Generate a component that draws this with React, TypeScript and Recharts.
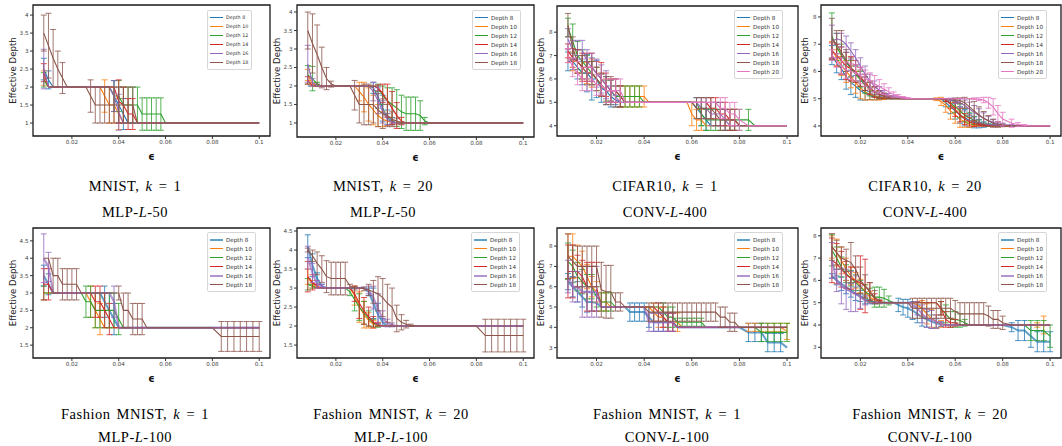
import { LineChart, Line, XAxis, YAxis, ErrorBar, ReferenceArea, Legend } from "recharts";

// epsilon grid: 0.002 steps up to 0.08, coarser steps after
const EPS = [
  0.008, 0.01, 0.012, 0.014, 0.016, 0.018, 0.02, 0.022, 0.024, 0.026,  0.028, 0.03, 0.032, 0.034, 0.036, 0.038, 0.04, 0.042, 0.044, 0.046,
  0.048, 0.05, 0.052, 0.054, 0.056, 0.058, 0.06, 0.062, 0.064, 0.066,  0.068, 0.07, 0.072, 0.074, 0.076, 0.078, 0.08,  0.0838, 0.0865, 0.0892, 0.0919, 0.0946, 0.0973, 0.1,
];

const DEPTHS = [8, 10, 12, 14, 16, 18, 20];
const COLORS = ["#1f77b4", "#ff7f0e", "#2ca02c", "#d62728", "#9467bd", "#8c564b", "#e377c2"];
const X_TICKS = [0.02, 0.04, 0.06, 0.08, 0.1];

// ---- MNIST, k = 1 (MLP-L-50)
const mnist1_d8 = [
  2.5, 2.2, 2, 2, 2, 2, 2, 2, 2, 2,  2, 2, 2, 2, 2, 1.75, 1.5, 1.25, 1, 1,
  1, 1, 1, 1, 1, 1, 1, 1, 1, 1,  1, 1, 1, 1, 1, 1, 1,  1, 1, 1, 1, 1, 1, 1,
];
const mnist1_d8_e = [
  0.3, 0.25, 0, 0, 0, 0, 0, 0, 0, 0,  0, 0, 0, 0, 0, 0.43, 0.5, 0.43, 0, 0,
  0, 0, 0, 0, 0, 0, 0, 0, 0, 0,  0, 0, 0, 0, 0, 0, 0,  0, 0, 0, 0, 0, 0, 0,
];
const mnist1_d10 = [
  2.25, 2, 2, 2, 2, 2, 2, 2, 2, 2,  2, 2, 2, 1.75, 1.5, 1.5, 1.25, 1, 1, 1,
  1, 1, 1, 1, 1, 1, 1, 1, 1, 1,  1, 1, 1, 1, 1, 1, 1,  1, 1, 1, 1, 1, 1, 1,
];
const mnist1_d10_e = [
  0.2, 0, 0, 0, 0, 0, 0, 0, 0, 0,  0, 0, 0, 0.45, 0.5, 0.5, 0.43, 0, 0, 0,
  0, 0, 0, 0, 0, 0, 0, 0, 0, 0,  0, 0, 0, 0, 0, 0, 0,  0, 0, 0, 0, 0, 0, 0,
];
const mnist1_d12 = [
  2.2, 2, 2, 2, 2, 2, 2, 2, 2, 2,  2, 2, 2, 2, 2, 1.75, 1.75, 1.5, 1.5, 1.5,
  1.5, 1.25, 1.25, 1.25, 1.25, 1.25, 1, 1, 1, 1,  1, 1, 1, 1, 1, 1, 1,  1, 1, 1, 1, 1, 1, 1,
];
const mnist1_d12_e = [
  0.2, 0, 0, 0, 0, 0, 0, 0, 0, 0,  0, 0, 0, 0, 0, 0.43, 0.43, 0.5, 0.5, 0.5,
  0.5, 0.45, 0.45, 0.45, 0.45, 0.45, 0, 0, 0, 0,  0, 0, 0, 0, 0, 0, 0,  0, 0, 0, 0, 0, 0, 0,
];
const mnist1_d14 = [
  2.4, 2, 2, 2, 2, 2, 2, 2, 2, 2,  2, 2, 2, 2, 2, 2, 1.6, 1.5, 1.25, 1.25,
  1, 1, 1, 1, 1, 1, 1, 1, 1, 1,  1, 1, 1, 1, 1, 1, 1,  1, 1, 1, 1, 1, 1, 1,
];
const mnist1_d14_e = [
  0.25, 0, 0, 0, 0, 0, 0, 0, 0, 0,  0, 0, 0, 0, 0, 0, 0.6, 0.5, 0.43, 0.43,
  0, 0, 0, 0, 0, 0, 0, 0, 0, 0,  0, 0, 0, 0, 0, 0, 0,  0, 0, 0, 0, 0, 0, 0,
];
const mnist1_d16 = [
  2.5, 2, 2, 2, 2, 2, 2, 2, 2, 2,  2, 2, 2, 2, 2, 1.75, 1.3, 1, 1, 1,
  1, 1, 1, 1, 1, 1, 1, 1, 1, 1,  1, 1, 1, 1, 1, 1, 1,  1, 1, 1, 1, 1, 1, 1,
];
const mnist1_d16_e = [
  0.55, 0, 0, 0, 0, 0, 0, 0, 0, 0,  0, 0, 0, 0, 0, 0.43, 0.5, 0, 0, 0,
  0, 0, 0, 0, 0, 0, 0, 0, 0, 0,  0, 0, 0, 0, 0, 0, 0,  0, 0, 0, 0, 0, 0, 0,
];
const mnist1_d18 = [
  3.5, 3.15, 2.8, 2.5, 2.25, 2, 2, 2, 2, 2,  1.75, 1.5, 1.5, 1.5, 1.5, 1.5, 1.5, 1.5, 1.5, 1.5,
  1, 1, 1, 1, 1, 1, 1, 1, 1, 1,  1, 1, 1, 1, 1, 1, 1,  1, 1, 1, 1, 1, 1, 1,
];
const mnist1_d18_e = [
  0.5, 0.9, 0.8, 0.5, 0.43, 0, 0, 0, 0, 0,  0.45, 0.5, 0.5, 0.5, 0.5, 0.5, 0.5, 0.5, 0.5, 0.5,
  0, 0, 0, 0, 0, 0, 0, 0, 0, 0,  0, 0, 0, 0, 0, 0, 0,  0, 0, 0, 0, 0, 0, 0,
];

// ---- MNIST, k = 20 (MLP-L-50)
const mnist20_d8 = [
  2, 2, 2, 2, 2, 2, 2, 2, 2, 2,  2, 2, 2, 2, 1.95, 1.7, 1.4, 1.15, 1.05, 1,
  1, 1, 1, 1, 1, 1, 1, 1, 1, 1,  1, 1, 1, 1, 1, 1, 1,  1, 1, 1, 1, 1, 1, 1,
];
const mnist20_d8_e = [
  0, 0, 0, 0, 0, 0, 0, 0, 0, 0,  0, 0, 0, 0, 0.15, 0.3, 0.35, 0.2, 0.1, 0,
  0, 0, 0, 0, 0, 0, 0, 0, 0, 0,  0, 0, 0, 0, 0, 0, 0,  0, 0, 0, 0, 0, 0, 0,
];
const mnist20_d10 = [
  2.3, 2.05, 2, 2, 2, 2, 2, 2, 2, 2,  2, 1.85, 1.7, 1.5, 1.35, 1.2, 1.1, 1.05, 1.02, 1,
  1, 1, 1, 1, 1, 1, 1, 1, 1, 1,  1, 1, 1, 1, 1, 1, 1,  1, 1, 1, 1, 1, 1, 1,
];
const mnist20_d10_e = [
  0.15, 0.05, 0, 0, 0, 0, 0, 0, 0, 0,  0, 0.25, 0.4, 0.45, 0.4, 0.3, 0.2, 0.12, 0.05, 0,
  0, 0, 0, 0, 0, 0, 0, 0, 0, 0,  0, 0, 0, 0, 0, 0, 0,  0, 0, 0, 0, 0, 0, 0,
];
const mnist20_d12 = [
  2.3, 2.2, 2.05, 2, 2, 2, 2, 2, 2, 2,  2, 2, 2, 2, 2, 1.95, 1.75, 1.6, 1.5, 1.4,
  1.3, 1.25, 1.25, 1.25, 1.2, 1.05, 1, 1, 1, 1,  1, 1, 1, 1, 1, 1, 1,  1, 1, 1, 1, 1, 1, 1,
];
const mnist20_d12_e = [
  0.25, 0.33, 0.05, 0, 0, 0, 0, 0, 0, 0,  0, 0, 0, 0, 0, 0.1, 0.25, 0.35, 0.45, 0.5,
  0.45, 0.45, 0.45, 0.45, 0.4, 0.1, 0, 0, 0, 0,  0, 0, 0, 0, 0, 0, 0,  0, 0, 0, 0, 0, 0, 0,
];
const mnist20_d14 = [
  2.15, 2, 2, 2, 2, 2, 2, 2, 2, 2,  2, 2, 2, 2, 2, 1.95, 1.8, 1.6, 1.4, 1.2,
  1.05, 1, 1, 1, 1, 1, 1, 1, 1, 1,  1, 1, 1, 1, 1, 1, 1,  1, 1, 1, 1, 1, 1, 1,
];
const mnist20_d14_e = [
  0.1, 0, 0, 0, 0, 0, 0, 0, 0, 0,  0, 0, 0, 0, 0, 0.08, 0.25, 0.45, 0.45, 0.35,
  0.1, 0, 0, 0, 0, 0, 0, 0, 0, 0,  0, 0, 0, 0, 0, 0, 0,  0, 0, 0, 0, 0, 0, 0,
];
const mnist20_d16 = [
  2.6, 2.1, 2, 2, 2, 2, 2, 2, 2, 2,  2, 2, 2, 2, 1.85, 1.6, 1.3, 1.1, 1.02, 1,
  1, 1, 1, 1, 1, 1, 1, 1, 1, 1,  1, 1, 1, 1, 1, 1, 1,  1, 1, 1, 1, 1, 1, 1,
];
const mnist20_d16_e = [
  0.5, 0.1, 0, 0, 0, 0, 0, 0, 0, 0,  0, 0, 0, 0, 0.25, 0.35, 0.3, 0.15, 0.03, 0,
  0, 0, 0, 0, 0, 0, 0, 0, 0, 0,  0, 0, 0, 0, 0, 0, 0,  0, 0, 0, 0, 0, 0, 0,
];
const mnist20_d18 = [
  3.5, 3.15, 2.85, 2.5, 2.2, 2.05, 2, 2, 2, 2,  1.75, 1.5, 1.5, 1.5, 1.5, 1.35, 1.25, 1.2, 1.1, 1.05,
  1, 1, 1, 1, 1, 1, 1, 1, 1, 1,  1, 1, 1, 1, 1, 1, 1,  1, 1, 1, 1, 1, 1, 1,
];
const mnist20_d18_e = [
  0.5, 0.8, 0.8, 0.55, 0.3, 0.08, 0, 0, 0, 0,  0.4, 0.5, 0.55, 0.55, 0.5, 0.45, 0.4, 0.3, 0.2, 0.08,
  0.03, 0, 0, 0, 0, 0, 0, 0, 0, 0,  0, 0, 0, 0, 0, 0, 0,  0, 0, 0, 0, 0, 0, 0,
];

// ---- CIFAR10, k = 1 (CONV-L-400)
const cifar1_d8 = [
  6.75, 6.75, 6.5, 6.25, 6.25, 6, 6, 5.6, 5.5, 5.25,  5.1, 5, 5, 5, 5, 5, 5, 5, 5, 5,
  5, 5, 5, 5, 5, 5, 5, 4.75, 4.5, 4.25,  4, 4, 4, 4, 4, 4, 4,  4, 4, 4, 4, 4, 4, 4,
];
const cifar1_d8_e = [
  0.4, 0.35, 0.5, 0.5, 0.8, 0.9, 0.8, 0.6, 0.6, 0.45,  0.2, 0, 0, 0, 0, 0, 0, 0, 0, 0,
  0, 0, 0, 0, 0, 0, 0, 0.45, 0.5, 0.45,  0, 0, 0, 0, 0, 0, 0,  0, 0, 0, 0, 0, 0, 0,
];
const cifar1_d10 = [
  7, 6.75, 6.75, 6.5, 6.25, 6.25, 6, 5.75, 5.5, 5.5,  5.25, 5.25, 5.25, 5.25, 5.25, 5.25, 5.25, 5, 5, 5,
  5, 5, 5, 5, 5, 5, 4.5, 4.25, 4.25, 4,  4, 4, 4, 4, 4, 4, 4,  4, 4, 4, 4, 4, 4, 4,
];
const cifar1_d10_e = [
  0.3, 0.4, 0.5, 0.5, 0.45, 0.6, 0.5, 0.5, 0.5, 0.45,  0.45, 0.45, 0.45, 0.45, 0.45, 0.45, 0.45, 0, 0, 0,
  0, 0, 0, 0, 0, 0, 0.5, 0.45, 0.45, 0,  0, 0, 0, 0, 0, 0, 0,  0, 0, 0, 0, 0, 0, 0,
];
const cifar1_d12 = [
  8.2, 7.6, 7, 6.75, 6.5, 6.25, 6, 5.75, 5.5, 5.5,  5.25, 5.25, 5.25, 5.25, 5.25, 5.25, 5, 5, 5, 5,
  5, 5, 5, 5, 5, 5, 5, 5, 4.5, 4.25,  4.25, 4.25, 4.25, 4.25, 4.25, 4.25, 4.25,  4.25, 4, 4, 4, 4, 4, 4,
];
const cifar1_d12_e = [
  0.4, 0.75, 0.6, 0.5, 0.5, 0.5, 0.5, 0.45, 0.45, 0.45,  0.45, 0.45, 0.45, 0.45, 0.45, 0.45, 0, 0, 0, 0,
  0, 0, 0, 0, 0, 0, 0, 0, 0.5, 0.45,  0.45, 0.45, 0.45, 0.45, 0.45, 0.45, 0.45,  0.45, 0, 0, 0, 0, 0, 0,
];
const cifar1_d14 = [
  7.2, 6.9, 6.75, 6.5, 6.5, 6.5, 6.25, 6, 5.75, 5.5,  5.5, 5.25, 5, 5, 5, 5, 5, 5, 5, 5,
  5, 5, 5, 5, 5, 5, 5, 5, 5, 5,  4.75, 4.75, 4.5, 4.5, 4.25, 4.25, 4,  4, 4, 4, 4, 4, 4, 4,
];
const cifar1_d14_e = [
  0.3, 0.4, 0.5, 0.6, 0.6, 0.6, 0.5, 0.7, 0.5, 0.5,  0.5, 0.45, 0, 0, 0, 0, 0, 0, 0, 0,
  0, 0, 0, 0, 0, 0, 0, 0, 0, 0,  0.45, 0.45, 0.5, 0.5, 0.45, 0.45, 0,  0, 0, 0, 0, 0, 0, 0,
];
const cifar1_d16 = [
  7.7, 7.25, 7.25, 7.25, 6.75, 6.5, 6.25, 6, 5.75, 5.5,  5.25, 5, 5, 5, 5, 5, 5, 5, 5, 5,
  5, 5, 5, 5, 5, 5, 5, 5, 4.75, 4.75,  4.5, 4.5, 4.5, 4.25, 4, 4, 4,  4, 4, 4, 4, 4, 4, 4,
];
const cifar1_d16_e = [
  0.45, 0.4, 0.4, 0.4, 0.5, 0.6, 0.6, 0.6, 0.6, 0.45,  0.45, 0, 0, 0, 0, 0, 0, 0, 0, 0,
  0, 0, 0, 0, 0, 0, 0, 0, 0.45, 0.45,  0.5, 0.5, 0.5, 0.45, 0, 0, 0,  0, 0, 0, 0, 0, 0, 0,
];
const cifar1_d18 = [
  8.3, 7.3, 6.75, 6.5, 6.25, 6.25, 6, 5.75, 5.5, 5.5,  5.5, 5.25, 5, 5, 5, 5, 5, 5, 5, 5,
  5, 5, 5, 5, 5, 5, 5, 4.75, 4.75, 4.75,  4.75, 4.5, 4.25, 4.25, 4.25, 4.25, 4,  4, 4, 4, 4, 4, 4, 4,
];
const cifar1_d18_e = [
  0.5, 0.5, 0.5, 0.5, 0.5, 0.5, 0.5, 0.5, 0.6, 0.6,  0.5, 0.45, 0, 0, 0, 0, 0, 0, 0, 0,
  0, 0, 0, 0, 0, 0, 0, 0.45, 0.45, 0.45,  0.45, 0.5, 0.45, 0.45, 0.45, 0.45, 0,  0, 0, 0, 0, 0, 0, 0,
];
const cifar1_d20 = [
  7, 6.5, 6.25, 6, 6, 6, 5.75, 5.75, 5.5, 5.5,  5.5, 5.5, 5, 5, 5, 5, 5, 5, 5, 5,
  5, 5, 5, 5, 5, 5, 5, 5, 5, 5,  5, 5, 4.75, 4.75, 4.5, 4.5, 4.25,  4, 4, 4, 4, 4, 4, 4,
];
const cifar1_d20_e = [
  0.3, 0.4, 0.5, 0.5, 0.5, 0.5, 0.45, 0.45, 0.5, 0.5,  0.5, 0.5, 0, 0, 0, 0, 0, 0, 0, 0,
  0, 0, 0, 0, 0, 0, 0, 0, 0, 0,  0, 0, 0.45, 0.45, 0.5, 0.5, 0.45,  0, 0, 0, 0, 0, 0, 0,
];

// ---- CIFAR10, k = 20 (CONV-L-400)
const cifar20_d8 = [
  6.6, 6.3, 6.1, 5.8, 5.6, 5.45, 5.3, 5.2, 5.12, 5.06,  5.03, 5.01, 5, 5, 5, 5, 5, 5, 5, 5,
  5, 5, 5, 5, 4.85, 4.7, 4.55, 4.4, 4.3, 4.2,  4.13, 4.08, 4.05, 4.03, 4.02, 4.01, 4,  4, 4, 4, 4, 4, 4, 4,
];
const cifar20_d8_e = [
  0.35, 0.35, 0.4, 0.45, 0.45, 0.4, 0.35, 0.25, 0.15, 0.1,  0.05, 0.02, 0, 0, 0, 0, 0, 0, 0, 0,
  0, 0, 0, 0, 0.15, 0.25, 0.3, 0.3, 0.3, 0.25,  0.2, 0.15, 0.1, 0.05, 0.03, 0.02, 0,  0, 0, 0, 0, 0, 0, 0,
];
const cifar20_d10 = [
  6.8, 6.5, 6.2, 6, 5.8, 5.6, 5.4, 5.25, 5.15, 5.1,  5.05, 5.02, 5, 5, 5, 5, 5, 5, 5, 5,
  5, 5, 4.98, 4.9, 4.75, 4.55, 4.4, 4.25, 4.15, 4.05,  4.02, 4, 4, 4, 4, 4, 4,  4, 4, 4, 4, 4, 4, 4,
];
const cifar20_d10_e = [
  0.3, 0.3, 0.35, 0.4, 0.4, 0.4, 0.4, 0.3, 0.2, 0.15,  0.1, 0.05, 0, 0, 0, 0, 0, 0, 0, 0,
  0, 0, 0.05, 0.15, 0.25, 0.3, 0.3, 0.3, 0.2, 0.1,  0.05, 0, 0, 0, 0, 0, 0,  0, 0, 0, 0, 0, 0, 0,
];
const cifar20_d12 = [
  7.3, 6.9, 6.6, 6.35, 6.1, 5.9, 5.7, 5.5, 5.35, 5.25,  5.15, 5.1, 5.05, 5.03, 5.01, 5, 5, 5, 5, 5,
  5, 5, 5, 5, 4.95, 4.85, 4.7, 4.55, 4.4, 4.3,  4.2, 4.12, 4.06, 4.03, 4.01, 4, 4,  4, 4, 4, 4, 4, 4, 4,
];
const cifar20_d12_e = [
  0.85, 0.5, 0.4, 0.35, 0.3, 0.3, 0.3, 0.3, 0.25, 0.2,  0.15, 0.1, 0.05, 0.03, 0.01, 0, 0, 0, 0, 0,
  0, 0, 0, 0, 0.05, 0.15, 0.2, 0.25, 0.25, 0.2,  0.15, 0.1, 0.05, 0.03, 0, 0, 0,  0, 0, 0, 0, 0, 0, 0,
];
const cifar20_d14 = [
  6.75, 6.6, 6.4, 6.2, 6.1, 6, 5.8, 5.6, 5.4, 5.25,  5.15, 5.1, 5.05, 5.02, 5, 5, 5, 5, 5, 5,
  5, 5, 5, 5, 4.95, 4.8, 4.6, 4.4, 4.25, 4.15,  4.08, 4.05, 4.02, 4.01, 4, 4, 4,  4, 4, 4, 4, 4, 4, 4,
];
const cifar20_d14_e = [
  0.3, 0.4, 0.5, 0.5, 0.45, 0.4, 0.35, 0.3, 0.25, 0.2,  0.15, 0.1, 0.05, 0.02, 0, 0, 0, 0, 0, 0,
  0, 0, 0, 0, 0.05, 0.15, 0.25, 0.25, 0.2, 0.15,  0.1, 0.05, 0.03, 0, 0, 0, 0,  0, 0, 0, 0, 0, 0, 0,
];
const cifar20_d16 = [
  7.1, 7.2, 7.15, 7, 6.75, 6.5, 6.2, 5.9, 5.65, 5.45,  5.3, 5.2, 5.12, 5.07, 5.04, 5.02, 5, 5, 5, 5,
  5, 5, 5, 5, 5, 4.97, 4.92, 4.85, 4.75, 4.62,  4.5, 4.38, 4.28, 4.2, 4.13, 4.08, 4.05,  4.02, 4, 4, 4, 4, 4, 4,
];
const cifar20_d16_e = [
  0.6, 0.2, 0.25, 0.3, 0.3, 0.3, 0.3, 0.3, 0.25, 0.2,  0.15, 0.1, 0.07, 0.05, 0.03, 0.02, 0, 0, 0, 0,
  0, 0, 0, 0, 0, 0.05, 0.1, 0.15, 0.2, 0.25,  0.25, 0.25, 0.2, 0.15, 0.1, 0.07, 0.05,  0.03, 0, 0, 0, 0, 0, 0,
];
const cifar20_d18 = [
  7.2, 7, 6.7, 6.4, 6.15, 5.95, 5.75, 5.55, 5.4, 5.25,  5.15, 5.1, 5.05, 5.02, 5, 5, 5, 5, 5, 5,
  5, 5, 5, 5, 5, 5, 4.97, 4.93, 4.85, 4.7,  4.55, 4.4, 4.28, 4.18, 4.1, 4.05, 4.02,  4, 4, 4, 4, 4, 4, 4,
];
const cifar20_d18_e = [
  0.75, 0.5, 0.8, 0.4, 0.35, 0.3, 0.3, 0.25, 0.2, 0.15,  0.1, 0.07, 0.05, 0.02, 0, 0, 0, 0, 0, 0,
  0, 0, 0, 0, 0, 0, 0.05, 0.1, 0.2, 0.3,  0.35, 0.3, 0.25, 0.2, 0.15, 0.1, 0.05,  0, 0, 0, 0, 0, 0, 0,
];
const cifar20_d20 = [
  6.6, 6.4, 6.2, 6.05, 6, 5.95, 5.85, 5.75, 5.65, 5.55,  5.45, 5.35, 5.25, 5.15, 5.1, 5.05, 5.02, 5, 5, 5,
  5, 5, 5, 5, 5, 5, 5, 5, 5, 5,  5, 4.98, 4.95, 4.85, 4.7, 4.45, 4.25,  4.1, 4.05, 4.02, 4, 4, 4, 4,
];
const cifar20_d20_e = [
  0.2, 0.25, 0.3, 0.3, 0.3, 0.3, 0.3, 0.3, 0.3, 0.3,  0.25, 0.2, 0.15, 0.1, 0.05, 0.03, 0.02, 0, 0, 0,
  0, 0, 0, 0, 0, 0, 0, 0, 0, 0,  0.03, 0.05, 0.1, 0.2, 0.3, 0.3, 0.25,  0.15, 0.07, 0.03, 0, 0, 0, 0,
];

// ---- Fashion MNIST, k = 1 (MLP-L-100)
const fmlp1_d8 = [
  3.5, 3.25, 3, 3, 3, 3, 3, 3, 3, 3,  3, 3, 3, 2.75, 2.5, 2.25, 2, 2, 2, 2,
  2, 2, 2, 2, 2, 2, 2, 2, 2, 2,  2, 2, 2, 2, 2, 2, 2,  2, 2, 2, 2, 2, 2, 2,
];
const fmlp1_d8_e = [
  0.3, 0.3, 0, 0, 0, 0, 0, 0, 0, 0,  0, 0, 0, 0.45, 0.5, 0.45, 0, 0, 0, 0,
  0, 0, 0, 0, 0, 0, 0, 0, 0, 0,  0, 0, 0, 0, 0, 0, 0,  0, 0, 0, 0, 0, 0, 0,
];
const fmlp1_d10 = [
  3, 3, 3, 3, 3, 3, 3, 3, 3, 3,  2.75, 2.5, 2.25, 2, 2, 2, 2, 2, 2, 2,
  2, 2, 2, 2, 2, 2, 2, 2, 2, 2,  2, 2, 2, 2, 2, 2, 2,  2, 2, 2, 2, 2, 2, 2,
];
const fmlp1_d10_e = [
  0, 0, 0, 0, 0, 0, 0, 0, 0, 0,  0.45, 0.5, 0.45, 0, 0, 0, 0, 0, 0, 0,
  0, 0, 0, 0, 0, 0, 0, 0, 0, 0,  0, 0, 0, 0, 0, 0, 0,  0, 0, 0, 0, 0, 0, 0,
];
const fmlp1_d12 = [
  3, 3, 3, 3, 3, 3, 3, 3, 3, 2.75,  2.75, 2.5, 2.5, 2.5, 2.5, 2.5, 2.25, 2, 2, 2,
  2, 2, 2, 2, 2, 2, 2, 2, 2, 2,  2, 2, 2, 2, 2, 2, 2,  2, 2, 2, 2, 2, 2, 2,
];
const fmlp1_d12_e = [
  0.2, 0, 0, 0, 0, 0, 0, 0, 0, 0.45,  0.45, 0.5, 0.5, 0.5, 0.5, 0.5, 0.45, 0, 0, 0,
  0, 0, 0, 0, 0, 0, 0, 0, 0, 0,  0, 0, 0, 0, 0, 0, 0,  0, 0, 0, 0, 0, 0, 0,
];
const fmlp1_d14 = [
  3.25, 3.25, 3, 3, 3, 3, 3, 3, 3, 3,  3, 2.75, 2.75, 2.5, 2.25, 2, 2, 2, 2, 2,
  2, 2, 2, 2, 2, 2, 2, 2, 2, 2,  2, 2, 2, 2, 2, 2, 2,  2, 2, 2, 2, 2, 2, 2,
];
const fmlp1_d14_e = [
  0.45, 0.45, 0, 0, 0, 0, 0, 0, 0, 0,  0, 0.45, 0.45, 0.5, 0.45, 0, 0, 0, 0, 0,
  0, 0, 0, 0, 0, 0, 0, 0, 0, 0,  0, 0, 0, 0, 0, 0, 0,  0, 0, 0, 0, 0, 0, 0,
];
const fmlp1_d16 = [
  4, 3.75, 3, 3, 3, 3, 3, 3, 3, 3,  3, 3, 3, 3, 3, 2.75, 2, 2, 2, 2,
  2, 2, 2, 2, 2, 2, 2, 2, 2, 2,  2, 2, 2, 2, 2, 2, 2,  2, 2, 2, 2, 2, 2, 2,
];
const fmlp1_d16_e = [
  0.7, 0.42, 0, 0, 0, 0, 0, 0, 0, 0,  0, 0, 0, 0, 0, 0.45, 0, 0, 0, 0,
  0, 0, 0, 0, 0, 0, 0, 0, 0, 0,  0, 0, 0, 0, 0, 0, 0,  0, 0, 0, 0, 0, 0, 0,
];
const fmlp1_d18 = [
  4, 4, 3.5, 3.5, 3.25, 3.25, 3.25, 3.25, 3, 3,  3, 3, 3, 3, 3, 3, 3, 2.5, 2.5, 2.25,
  2.25, 2.25, 2, 2, 2, 2, 2, 2, 2, 2,  2, 2, 2, 2, 2, 2, 2,  1.75, 1.75, 1.75, 1.75, 1.75, 1.75, 1.75,
];
const fmlp1_d18_e = [
  0, 0, 0.5, 0.5, 0.45, 0.45, 0.45, 0.45, 0, 0,  0, 0, 0, 0, 0, 0, 0.2, 0.5, 0.5, 0.45,
  0.45, 0.45, 0, 0, 0, 0, 0, 0, 0, 0,  0, 0, 0, 0, 0, 0, 0,  0.43, 0.43, 0.43, 0.43, 0.43, 0.43, 0.43,
];

// ---- Fashion MNIST, k = 20 (MLP-L-100)
const fmlp20_d8 = [
  4.1, 3.6, 3.25, 3.05, 3, 3, 3, 3, 3, 3,  3, 3, 3, 2.9, 2.6, 2.3, 2.1, 2, 2, 2,
  2, 2, 2, 2, 2, 2, 2, 2, 2, 2,  2, 2, 2, 2, 2, 2, 2,  2, 2, 2, 2, 2, 2, 2,
];
const fmlp20_d8_e = [
  0.3, 0.3, 0.15, 0.05, 0, 0, 0, 0, 0, 0,  0, 0, 0, 0.1, 0.4, 0.3, 0.1, 0, 0, 0,
  0, 0, 0, 0, 0, 0, 0, 0, 0, 0,  0, 0, 0, 0, 0, 0, 0,  0, 0, 0, 0, 0, 0, 0,
];
const fmlp20_d10 = [
  3.3, 3.1, 3, 3, 3, 3, 3, 3, 3, 3,  2.8, 2.5, 2.3, 2.15, 2.05, 2, 2, 2, 2, 2,
  2, 2, 2, 2, 2, 2, 2, 2, 2, 2,  2, 2, 2, 2, 2, 2, 2,  2, 2, 2, 2, 2, 2, 2,
];
const fmlp20_d10_e = [
  0.2, 0.1, 0, 0, 0, 0, 0, 0, 0, 0,  0.25, 0.4, 0.35, 0.2, 0.1, 0, 0, 0, 0, 0,
  0, 0, 0, 0, 0, 0, 0, 0, 0, 0,  0, 0, 0, 0, 0, 0, 0,  0, 0, 0, 0, 0, 0, 0,
];
const fmlp20_d12 = [
  3.1, 3.05, 3, 3, 3, 3, 3, 3, 3, 2.9,  2.7, 2.5, 2.35, 2.2, 2.08, 2.02, 2, 2, 2, 2,
  2, 2, 2, 2, 2, 2, 2, 2, 2, 2,  2, 2, 2, 2, 2, 2, 2,  2, 2, 2, 2, 2, 2, 2,
];
const fmlp20_d12_e = [
  0.15, 0.05, 0, 0, 0, 0, 0, 0, 0, 0.1,  0.3, 0.35, 0.3, 0.2, 0.1, 0.05, 0, 0, 0, 0,
  0, 0, 0, 0, 0, 0, 0, 0, 0, 0,  0, 0, 0, 0, 0, 0, 0,  0, 0, 0, 0, 0, 0, 0,
];
const fmlp20_d14 = [
  3.3, 3.15, 3.05, 3, 3, 3, 3, 3, 3, 3,  2.85, 2.6, 2.4, 2.25, 2.1, 2.05, 2, 2, 2, 2,
  2, 2, 2, 2, 2, 2, 2, 2, 2, 2,  2, 2, 2, 2, 2, 2, 2,  2, 2, 2, 2, 2, 2, 2,
];
const fmlp20_d14_e = [
  0.4, 0.2, 0.05, 0, 0, 0, 0, 0, 0, 0,  0.2, 0.4, 0.35, 0.25, 0.15, 0.05, 0, 0, 0, 0,
  0, 0, 0, 0, 0, 0, 0, 0, 0, 0,  0, 0, 0, 0, 0, 0, 0,  0, 0, 0, 0, 0, 0, 0,
];
const fmlp20_d16 = [
  3.8, 3.4, 3.1, 3.05, 3, 3, 3, 3, 3, 3,  3, 3, 3, 2.95, 2.75, 2.45, 2.2, 2.08, 2.03, 2,
  2, 2, 2, 2, 2, 2, 2, 2, 2, 2,  2, 2, 2, 2, 2, 2, 2,  2, 2, 2, 2, 2, 2, 2,
];
const fmlp20_d16_e = [
  0.3, 0.25, 0.1, 0.05, 0, 0, 0, 0, 0, 0,  0, 0, 0, 0.1, 0.3, 0.4, 0.2, 0.1, 0.05, 0,
  0, 0, 0, 0, 0, 0, 0, 0, 0, 0,  0, 0, 0, 0, 0, 0, 0,  0, 0, 0, 0, 0, 0, 0,
];
const fmlp20_d18 = [
  4, 3.85, 3.65, 3.5, 3.3, 3.25, 3.25, 3.25, 3.25, 3.05,  3, 3, 2.98, 2.95, 2.9, 2.85, 2.75, 2.6, 2.5, 2.2,
  2.1, 2.05, 2.02, 2, 2, 2, 2, 2, 2, 2,  2, 2, 2, 2, 2, 2, 2,  1.75, 1.75, 1.75, 1.75, 1.75, 1.75, 1.75,
];
const fmlp20_d18_e = [
  0.05, 0.15, 0.3, 0.35, 0.42, 0.43, 0.43, 0.43, 0.43, 0.05,  0.05, 0, 0.05, 0.15, 0.3, 0.45, 0.5, 0.5, 0.5, 0.35,
  0.2, 0.1, 0.03, 0, 0, 0, 0, 0, 0, 0,  0, 0, 0, 0, 0, 0, 0,  0.43, 0.43, 0.43, 0.43, 0.43, 0.43, 0.43,
];

// ---- Fashion MNIST, k = 1 (CONV-L-100)
const fconv1_d8 = [
  6.25, 6, 5.75, 5.5, 5.25, 5.25, 5.2, 5, 5, 5,  5, 5, 5, 4.75, 4.75, 4.75, 4.75, 4.5, 4.25, 4.25,
  4.25, 4.25, 4.25, 4, 4, 4, 4, 4, 4, 4,  4, 4, 4, 4, 4, 4, 4,  3.75, 3.75, 3.75, 3.25, 3.25, 3.25, 3,
];
const fconv1_d8_e = [
  0.4, 0.5, 0.5, 0.5, 0.5, 0.45, 0.4, 0, 0, 0,  0, 0, 0, 0.45, 0.45, 0.45, 0.45, 0.5, 0.45, 0.45,
  0.45, 0.45, 0.45, 0, 0, 0, 0, 0, 0, 0,  0, 0, 0, 0, 0, 0, 0,  0.45, 0.45, 0.45, 0.45, 0.45, 0.45, 0,
];
const fconv1_d10 = [
  7.5, 7.5, 7.25, 7, 6.5, 6, 5.75, 5.25, 5.25, 5,  5, 5, 5, 5, 5, 5, 5, 5, 4.75, 4.5,
  4.5, 4.25, 4.25, 4.25, 4, 4, 4, 4, 4, 4,  4, 4, 4, 4, 4, 4, 4,  4, 4, 4, 4, 4, 4, 3.8,
];
const fconv1_d10_e = [
  1.1, 1.1, 0.8, 0.75, 0.6, 0.5, 0.5, 0.45, 0.45, 0,  0, 0, 0, 0, 0, 0, 0, 0, 0.45, 0.5,
  0.5, 0.45, 0.45, 0.45, 0, 0, 0, 0, 0, 0,  0, 0, 0, 0, 0, 0, 0,  0.2, 0.2, 0.2, 0.2, 0.2, 0.2, 0.4,
];
const fconv1_d12 = [
  7.25, 7, 6.5, 6.25, 6, 6, 5.5, 5.25, 5.25, 5.25,  5, 5, 5, 5, 5, 5, 5, 5, 5, 5,
  4.75, 4.5, 4.5, 4.25, 4.25, 4.25, 4.25, 4.25, 4.25, 4,  4, 4, 4, 4, 4, 4, 4,  4, 4, 3.75, 3.75, 3.75, 3.75, 3.75,
];
const fconv1_d12_e = [
  0.9, 0.8, 0.7, 0.6, 0.6, 0.6, 0.5, 0.45, 0.45, 0.45,  0, 0, 0, 0, 0, 0, 0, 0, 0, 0,
  0.45, 0.5, 0.5, 0.2, 0.2, 0.2, 0.2, 0.2, 0.2, 0,  0, 0, 0, 0, 0, 0, 0,  0, 0, 0.45, 0.45, 0.45, 0.45, 0.45,
];
const fconv1_d14 = [
  6.75, 6.75, 6.75, 6.5, 6, 6, 6, 5, 5, 5,  5, 5, 5, 5, 5, 5, 5, 5, 5, 4.75,
  4.5, 4.25, 4.25, 4, 4, 4, 4, 4, 4, 4,  4, 4, 4, 4, 4, 4, 4,  4, 4, 4, 4, 4, 4, 4,
];
const fconv1_d14_e = [
  1.3, 1.3, 0.8, 0.8, 1.2, 1.2, 1.2, 0, 0, 0,  0, 0, 0, 0, 0, 0, 0, 0, 0, 0.45,
  0.5, 0.45, 0.45, 0, 0, 0, 0, 0, 0, 0,  0, 0, 0, 0, 0, 0, 0,  0, 0, 0, 0, 0, 0, 0,
];
const fconv1_d16 = [
  6.5, 6, 6, 5.75, 5.75, 5.75, 5.75, 5, 5, 5,  5, 5, 5, 5, 5, 5, 5, 4.25, 4.25, 4.25,
  4.25, 4.25, 4.25, 4, 4, 4, 4, 4, 4, 4,  4, 4, 4, 4, 4, 4, 4,  4, 4, 4, 4, 4, 4, 4,
];
const fconv1_d16_e = [
  0.8, 0.75, 0.75, 1.25, 1.25, 1.25, 1.25, 0, 0, 0,  0, 0, 0, 0, 0, 0, 0, 0.45, 0.45, 0.45,
  0.45, 0.45, 0.45, 0, 0, 0, 0, 0, 0, 0,  0, 0, 0, 0, 0, 0, 0,  0, 0, 0, 0, 0, 0, 0,
];
const fconv1_d18 = [
  7.5, 7.25, 7, 7, 7, 7, 7, 5.85, 5.75, 5.75,  5.25, 5.25, 5, 5, 5, 5, 5, 4.75, 4.75, 4.75,
  4.75, 4.75, 4.75, 4.75, 4.75, 4.75, 4.75, 4.75, 4.75, 4.75,  4.75, 4.75, 4.5, 4.5, 4.25, 4.25, 4,  4, 4, 4, 4, 4, 4, 4,
];
const fconv1_d18_e = [
  1.1, 0.8, 1, 1, 1, 1, 1, 1.35, 1.3, 1.3,  0.45, 0.45, 0, 0, 0, 0, 0, 0.45, 0.45, 0.45,
  0.45, 0.45, 0.45, 0.45, 0.45, 0.45, 0.45, 0.45, 0.45, 0.45,  0.45, 0.45, 0.5, 0.5, 0.45, 0.45, 0,  0, 0, 0, 0, 0, 0, 0,
];

// ---- Fashion MNIST, k = 20 (CONV-L-100)
const fconv20_d8 = [
  6.2, 6, 5.85, 5.7, 5.55, 5.4, 5.3, 5.15, 5.05, 5,  5, 5, 5, 5, 4.9, 4.8, 4.75, 4.65, 4.5, 4.35,
  4.25, 4.15, 4.08, 4.03, 4, 4, 4, 4, 4, 4,  4, 4, 4, 4, 4, 4, 4,  3.9, 3.75, 3.75, 3.5, 3.25, 3.25, 3.25,
];
const fconv20_d8_e = [
  0.1, 0.2, 0.3, 0.3, 0.3, 0.3, 0.25, 0.2, 0.1, 0.05,  0, 0, 0, 0, 0.3, 0.35, 0.4, 0.4, 0.4, 0.4,
  0.35, 0.3, 0.2, 0.1, 0, 0, 0, 0, 0, 0,  0, 0, 0, 0, 0, 0, 0,  0.2, 0.45, 0.45, 0.5, 0.45, 0.45, 0.45,
];
const fconv20_d10 = [
  7.5, 7.25, 6.9, 6.5, 6.2, 6, 5.75, 5.5, 5.25, 5.1,  5.05, 5, 5, 5, 5, 5, 5, 5, 4.9, 4.75,
  4.5, 4.3, 4.15, 4.05, 4, 4, 4, 4, 4, 4,  4, 4, 4, 4, 4, 4, 4,  4, 4, 4, 4, 4, 4, 4,
];
const fconv20_d10_e = [
  0.5, 0.6, 0.6, 0.5, 0.4, 0.35, 0.3, 0.3, 0.25, 0.1,  0.05, 0, 0, 0, 0, 0, 0, 0, 0.15, 0.35,
  0.45, 0.4, 0.3, 0.15, 0, 0, 0, 0, 0, 0,  0, 0, 0, 0, 0, 0, 0,  0, 0, 0, 0, 0.1, 0.4, 0,
];
const fconv20_d12 = [
  7.35, 7, 6.6, 6.3, 6.1, 5.9, 5.7, 5.5, 5.35, 5.25,  5.25, 5.2, 5.1, 5, 5, 5, 5, 5, 5, 5,
  5, 5, 5, 4.75, 4.5, 4.25, 4.25, 4.2, 4.1, 4,  4, 4, 4, 4, 4, 4, 4,  4, 4, 4, 3.75, 3.75, 3.75, 3.5,
];
const fconv20_d12_e = [
  0.7, 0.5, 0.45, 0.4, 0.35, 0.35, 0.3, 0.3, 0.3, 0.45,  0.45, 0.4, 0.2, 0, 0, 0, 0, 0, 0, 0,
  0, 0, 0, 0.3, 0.4, 0.35, 0.35, 0.3, 0.15, 0,  0, 0, 0, 0, 0, 0, 0,  0, 0, 0, 0.45, 0.45, 0.45, 0.5,
];
const fconv20_d14 = [
  6.9, 6.75, 6.5, 6.25, 6.1, 6, 5.9, 5.75, 5.5, 5.2,  5.05, 5, 5, 5, 5, 5, 5, 5, 5, 5,
  5, 5, 5, 4.75, 4.25, 4.1, 4.1, 4, 4, 4,  4, 4, 4, 4, 4, 4, 4,  4, 4, 4, 4, 4, 4, 4,
];
const fconv20_d14_e = [
  1, 0.9, 0.8, 0.6, 0.5, 0.6, 1.2, 1.2, 0.4, 0.2,  0.05, 0, 0, 0, 0, 0, 0, 0, 0, 0,
  0, 0, 0, 0.3, 0.35, 0.2, 0.15, 0, 0, 0,  0, 0, 0, 0, 0, 0, 0,  0, 0, 0, 0, 0, 0, 0,
];
const fconv20_d16 = [
  6.9, 6, 5.75, 5.6, 5.5, 5.4, 5.25, 5.1, 5, 5,  5, 5, 5, 5, 5, 5, 5, 4.9, 4.75, 4.5,
  4.3, 4.25, 4.15, 4.05, 4, 4, 4, 4, 4, 4,  4, 4, 4, 4, 4, 4, 4,  4, 4, 4, 4, 4, 4, 4,
];
const fconv20_d16_e = [
  0.8, 0.5, 0.8, 0.9, 0.9, 0.8, 0.5, 0.2, 0, 0,  0, 0, 0, 0, 0, 0, 0, 0.1, 0.3, 0.4,
  0.4, 0.4, 0.3, 0.1, 0, 0, 0, 0, 0, 0,  0, 0, 0, 0, 0, 0, 0,  0, 0, 0, 0, 0, 0, 0,
];
const fconv20_d18 = [
  7.5, 7.25, 7, 6.9, 6.8, 6.5, 6, 5.75, 5.5, 5.25,  5.05, 5, 5, 5, 5, 5, 5, 4.75, 4.75, 4.75,
  4.75, 4.75, 4.75, 4.75, 4.75, 4.75, 4.6, 4.5, 4.5, 4.5,  4.5, 4.5, 4.5, 4.4, 4.25, 4.25, 4.1,  4, 4, 4, 4, 4, 4, 4,
];
const fconv20_d18_e = [
  0.6, 0.55, 0.5, 0.5, 0.9, 0.6, 0.6, 0.5, 0.4, 0.3,  0.1, 0, 0, 0, 0, 0, 0, 0.45, 0.45, 0.45,
  0.45, 0.45, 0.45, 0.45, 0.45, 0.45, 0.5, 0.5, 0.5, 0.5,  0.5, 0.5, 0.5, 0.45, 0.4, 0.4, 0.3,  0, 0, 0, 0, 0, 0, 0,
];

// ---- layout
const X_DOMAIN: [number, number] = [0.0034, 0.1046];
const Y_W = 33;
const X_H = 32;
const M_TOP = 4;
const M_RIGHT = 4;
const TICK = { fontSize: 5.6, fill: "#444", fontFamily: "DejaVu Sans" };

type PanelSpec = {
  left: number;
  top: number;
  w: number;
  h: number;
  yDomain: [number, number];
  yTicks: number[];
  yLabelX: number;
  values: number[][];
  errors: number[][];
  legendX: number;
  legendY: number;
  legendFont: number;
  wide: boolean;
};

const PANELS: PanelSpec[] = [
  {
    left: 33, top: 5, w: 237, h: 131, yDomain: [0.64, 4.28], yTicks: [1, 1.5, 2, 2.5, 3, 3.5, 4], yLabelX: 13,
    values: [mnist1_d8, mnist1_d10, mnist1_d12, mnist1_d14, mnist1_d16, mnist1_d18],
    errors: [mnist1_d8_e, mnist1_d10_e, mnist1_d12_e, mnist1_d14_e, mnist1_d16_e, mnist1_d18_e],
    legendX: 207, legendY: 10, legendFont: 4.8, wide: false,
  },
  {
    left: 297, top: 5, w: 237, h: 132, yDomain: [0.62, 4.19], yTicks: [1, 1.5, 2, 2.5, 3, 3.5, 4], yLabelX: 277,
    values: [mnist20_d8, mnist20_d10, mnist20_d12, mnist20_d14, mnist20_d16, mnist20_d18],
    errors: [mnist20_d8_e, mnist20_d10_e, mnist20_d12_e, mnist20_d14_e, mnist20_d16_e, mnist20_d18_e],
    legendX: 472, legendY: 10, legendFont: 5.6, wide: false,
  },
  {
    left: 557, top: 6, w: 241, h: 130, yDomain: [3.56, 9.12], yTicks: [4, 5, 6, 7, 8], yLabelX: 541,
    values: [cifar1_d8, cifar1_d10, cifar1_d12, cifar1_d14, cifar1_d16, cifar1_d18, cifar1_d20],
    errors: [cifar1_d8_e, cifar1_d10_e, cifar1_d12_e, cifar1_d14_e, cifar1_d16_e, cifar1_d18_e, cifar1_d20_e],
    legendX: 734, legendY: 10, legendFont: 5.6, wide: false,
  },
  {
    left: 821, top: 5, w: 240, h: 131, yDomain: [3.63, 8.44], yTicks: [4, 5, 6, 7, 8], yLabelX: 805,
    values: [cifar20_d8, cifar20_d10, cifar20_d12, cifar20_d14, cifar20_d16, cifar20_d18, cifar20_d20],
    errors: [cifar20_d8_e, cifar20_d10_e, cifar20_d12_e, cifar20_d14_e, cifar20_d16_e, cifar20_d18_e, cifar20_d20_e],
    legendX: 998, legendY: 10, legendFont: 5.6, wide: false,
  },
  {
    left: 33, top: 228, w: 237, h: 130, yDomain: [1.13, 4.87], yTicks: [1.5, 2, 2.5, 3, 3.5, 4, 4.5], yLabelX: 13,
    values: [fmlp1_d8, fmlp1_d10, fmlp1_d12, fmlp1_d14, fmlp1_d16, fmlp1_d18],
    errors: [fmlp1_d8_e, fmlp1_d10_e, fmlp1_d12_e, fmlp1_d14_e, fmlp1_d16_e, fmlp1_d18_e],
    legendX: 207, legendY: 232, legendFont: 5.6, wide: true,
  },
  {
    left: 297, top: 228, w: 237, h: 130, yDomain: [1.16, 4.58], yTicks: [1.5, 2, 2.5, 3, 3.5, 4, 4.5], yLabelX: 277,
    values: [fmlp20_d8, fmlp20_d10, fmlp20_d12, fmlp20_d14, fmlp20_d16, fmlp20_d18],
    errors: [fmlp20_d8_e, fmlp20_d10_e, fmlp20_d12_e, fmlp20_d14_e, fmlp20_d16_e, fmlp20_d18_e],
    legendX: 471, legendY: 232, legendFont: 5.6, wide: true,
  },
  {
    left: 557, top: 228, w: 241, h: 130, yDomain: [2.49, 8.89], yTicks: [3, 4, 5, 6, 7, 8], yLabelX: 541,
    values: [fconv1_d8, fconv1_d10, fconv1_d12, fconv1_d14, fconv1_d16, fconv1_d18],
    errors: [fconv1_d8_e, fconv1_d10_e, fconv1_d12_e, fconv1_d14_e, fconv1_d16_e, fconv1_d18_e],
    legendX: 734, legendY: 232, legendFont: 5.6, wide: true,
  },
  {
    left: 821, top: 228, w: 240, h: 130, yDomain: [2.52, 8.35], yTicks: [3, 4, 5, 6, 7, 8], yLabelX: 805,
    values: [fconv20_d8, fconv20_d10, fconv20_d12, fconv20_d14, fconv20_d16, fconv20_d18],
    errors: [fconv20_d8_e, fconv20_d10_e, fconv20_d12_e, fconv20_d14_e, fconv20_d16_e, fconv20_d18_e],
    legendX: 998, legendY: 232, legendFont: 5.6, wide: true,
  },
];

const DATASETS = ["MNIST", "MNIST", "CIFAR10", "CIFAR10", "Fashion MNIST", "Fashion MNIST", "Fashion MNIST", "Fashion MNIST"];
const K_VALUES = [1, 20, 1, 20, 1, 20, 1, 20];
const ARCHS = [["MLP", "50"], ["MLP", "50"], ["CONV", "400"], ["CONV", "400"], ["MLP", "100"], ["MLP", "100"], ["CONV", "100"], ["CONV", "100"]];
const CAPTION_X = [135, 383, 665, 925, 135, 391, 667, 930];
const CAPTION_Y = [[186, 212], [186, 212], [186, 212], [186, 212], [414, 437], [414, 437], [414, 437], [414, 437]];

function isWide(p: PanelSpec, k: number) {
  return p.wide && (k === 0 || k === 4);
}

function Panel({ p }: { p: PanelSpec }) {
  const data = EPS.map((x, i) => {
    const row: Record<string, number> = { x };
    p.values.forEach((s, k) => {
      row[`v${k}`] = s[i];
      row[`e${k}`] = p.errors[k][i];
    });
    return row;
  });
  const cl = p.left - Y_W;
  const ct = p.top - M_TOP;
  const yl = p.yLabelX - cl;
  const ym = M_TOP + p.h / 2;

  const legendBox = () => (
    <div
      style={{
        border: "1px solid #d6d6d6",
        borderRadius: 2,
        background: "rgba(255,255,255,0.85)",
        padding: "2px 3px 2px 2px",
        fontFamily: "DejaVu Sans",
        fontSize: p.legendFont,
        color: "#333",
      }}
    >
      {p.values.map((_, k) => (
        <div key={k} style={{ display: "flex", alignItems: "center", height: 9, whiteSpace: "nowrap" }}>
          <span
            style={{
              display: "inline-block",
              width: 13,
              borderTop: `${isWide(p, k) ? 2 : 1.2}px solid ${COLORS[k]}`,
              opacity: isWide(p, k) ? 0.7 : 1,
              marginRight: 3,
            }}
          />
          <span>Depth {DEPTHS[k]}</span>
        </div>
      ))}
    </div>
  );

  return (
    <div style={{ position: "absolute", left: cl, top: ct }}>
      <LineChart
        width={Y_W + p.w + M_RIGHT}
        height={M_TOP + p.h + X_H}
        data={data}
        margin={{ top: M_TOP, right: M_RIGHT, bottom: 0, left: 0 }}
      >
        <XAxis
          type="number"
          dataKey="x"
          domain={X_DOMAIN}
          ticks={X_TICKS}
          allowDataOverflow
          height={X_H}
          axisLine={false}
          tickSize={3}
          tickMargin={1.5}
          tick={TICK}
          tickLine={{ stroke: "#333" }}
          label={() => (
            <text
              x={Y_W + p.w / 2}
              y={M_TOP + p.h + 20}
              textAnchor="middle"
              dominantBaseline="central"
              fontSize={10}
              fontWeight="bold"
              fontFamily="DejaVu Sans"
              fill="#111"
            >
              ϵ
            </text>
          )}
        />
        <YAxis
          type="number"
          domain={p.yDomain}
          ticks={p.yTicks}
          allowDataOverflow
          width={Y_W}
          axisLine={false}
          tickSize={3}
          tickMargin={1.5}
          tick={TICK}
          tickLine={{ stroke: "#333" }}
          label={() => (
            <text
              x={yl}
              y={ym}
              transform={`rotate(-90 ${yl} ${ym})`}
              textAnchor="middle"
              dominantBaseline="central"
              fontSize={8.6}
              fontFamily="DejaVu Sans"
              fill="#222"
            >
              Effective Depth
            </text>
          )}
        />
        <Legend
          layout="horizontal"
          align="center"
          verticalAlign="middle"
          content={legendBox}
          wrapperStyle={{ left: p.legendX - cl, top: p.legendY - ct, width: "auto", height: "auto" }}
        />
        {p.values.map((_, k) => (
          <Line
            key={k}
            type="linear"
            dataKey={`v${k}`}
            stroke={COLORS[k]}
            strokeWidth={isWide(p, k) ? 2 : 1.1}
            strokeOpacity={isWide(p, k) ? 0.7 : 1}
            dot={false}
            activeDot={false}
            isAnimationActive={false}
          >
            <ErrorBar
              dataKey={`e${k}`}
              width={3}
              stroke={COLORS[k]}
              strokeWidth={0.8}
              direction="y"
              isAnimationActive={false}
            />
          </Line>
        ))}
        <ReferenceArea
          x1={X_DOMAIN[0]}
          x2={X_DOMAIN[1]}
          y1={p.yDomain[0]}
          y2={p.yDomain[1]}
          fill="none"
          fillOpacity={0}
          stroke="#1a1a1a"
          strokeWidth={1.3}
          ifOverflow="visible"
        />
      </LineChart>
    </div>
  );
}

const captionStyle = {
  position: "absolute" as const,
  width: 260,
  textAlign: "center" as const,
  fontFamily: "Liberation Serif",
  fontSize: 14.5,
  letterSpacing: 0.5,
  wordSpacing: 2,
  lineHeight: "16px",
  color: "#000",
  whiteSpace: "nowrap" as const,
};

export default function App() {
  return (
    <div style={{ position: "absolute", left: 0, top: 0, width: 1062, height: 446, background: "#fff", overflow: "hidden" }}>
      {PANELS.map((p, i) => (
        <Panel key={i} p={p} />
      ))}
      {DATASETS.map((name, i) => (
        <div key={`c${i}`}>
          <div style={{ ...captionStyle, left: CAPTION_X[i] - 130, top: CAPTION_Y[i][0] - 8 }}>
            {name}, <i>k</i> = {K_VALUES[i]}
          </div>
          <div style={{ ...captionStyle, left: CAPTION_X[i] - 130, top: CAPTION_Y[i][1] - 8 }}>
            {ARCHS[i][0]}-<i>L</i>-{ARCHS[i][1]}
          </div>
        </div>
      ))}
    </div>
  );
}
